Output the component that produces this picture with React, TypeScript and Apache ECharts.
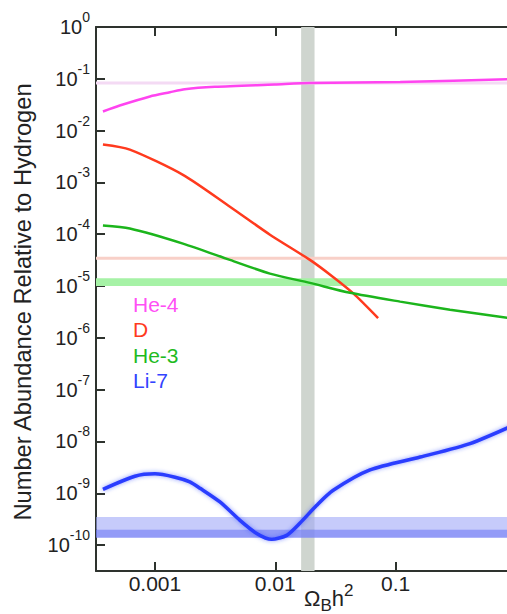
import React, { useEffect, useRef } from "react";
import * as echarts from "echarts";

// Curves (x = Ω_B h², y = number abundance relative to hydrogen)
const xHe4 = [3.7e-4, 5.1e-4, 9.1e-4, 1.33e-3, 1.77e-3, 3.15e-3, 9.9e-3, 1.94e-2, 0.109, 1.0];
const yHe4 = [0.0234, 0.0305, 0.0457, 0.055, 0.063, 0.07, 0.0776, 0.0826, 0.0863, 0.099];

const xD = [3.7e-4, 6.19e-4, 1.71e-3, 4.2e-3, 9.03e-3, 1.94e-2, 3.02e-2, 4.45e-2, 7.15e-2];
const yD = [5.4e-3, 4.3e-3, 1.4e-3, 3.4e-4, 9.8e-5, 3.2e-5, 1.5e-5, 7.2e-6, 2.4e-6];

const xHe3 = [3.7e-4, 6.19e-4, 1.71e-3, 4.2e-3, 9.03e-3, 1.94e-2, 4.18e-2, 0.109, 0.283, 1.0];
const yHe3 = [1.48e-4, 1.29e-4, 6.6e-5, 3.2e-5, 1.74e-5, 1.15e-5, 7.4e-6, 5.0e-6, 3.5e-6, 2.3e-6];

const xLi7 = [3.7e-4, 6.82e-4, 1.0e-3, 1.47e-3, 1.95e-3, 2.37e-3, 3.47e-3, 5.09e-3, 7.0e-3, 9.33e-3, 1.245e-2, 1.6e-2, 2.21e-2, 3.03e-2, 6.12e-2, 0.16, 0.415, 1.0];
const yLi7 = [1.19e-9, 2.13e-9, 2.37e-9, 2.04e-9, 1.66e-9, 1.25e-9, 6.8e-10, 3.0e-10, 1.68e-10, 1.29e-10, 1.54e-10, 2.63e-10, 5.86e-10, 1.14e-9, 2.82e-9, 5.0e-9, 9.1e-9, 2.16e-8];

// Observational bands
const baryonBand = [0.0164, 0.0212];
const he4Band = [0.0773, 0.0883];
const dBand = [3.21e-5, 3.67e-5];
const he3Band = [1.0e-5, 1.41e-5];
const li7BandOuter = [2.0e-10, 3.5e-10];
const li7BandInner = [1.39e-10, 2.0e-10];

// Axes
const xMin = 3.24e-4;
const xMax = 1;
const yMin = 3.16e-11;
const yMax = 1;
const xTickValues = [0.001, 0.01, 0.1];
const xTickLabels = ["0.001", "0.01", "0.1"];
const yTickExps = [-10, -9, -8, -7, -6, -5, -4, -3, -2, -1, 0];

const legendNames = ["He-4", "D", "He-3", "Li-7"];
const legendColors = ["#ff50f5", "#ff3a1e", "#1fbb1f", "#3344ff"];

const FONT = "'Liberation Sans', Arial, Helvetica, sans-serif";
const AXIS_COLOR = "#2e332e";

const pairs = (xs: number[], ys: number[]) => xs.map((x, i) => [x, ys[i]]);

export default function App() {
  const ref = useRef<HTMLDivElement>(null);
  useEffect(() => {
    if (!ref.current) return;
    const chart = echarts.init(ref.current, null, { renderer: "svg" });
    const yTickValues = yTickExps.map((e) => Math.pow(10, e));
    const yLabel = (v: number) => {
      const l = Math.log10(v);
      const e = Math.round(l);
      if (Math.abs(l - e) > 1e-6) return "";
      return `{b|10}{s|${e}}`;
    };
    const xLabel = (v: number) => {
      for (let i = 0; i < xTickValues.length; i++) {
        if (Math.abs(Math.log10(v) - Math.log10(xTickValues[i])) < 1e-6) return xTickLabels[i];
      }
      return "";
    };
    const tickStyle = { inside: true, length: 9, lineStyle: { color: AXIS_COLOR, width: 2 } };
    const lineStyleAxis = { show: true, lineStyle: { color: AXIS_COLOR, width: 2 } };

    const band = (name: string, dim: "xAxis" | "yAxis", r: number[], color: string, z: number) => ({
      name,
      type: "line",
      data: [],
      z,
      silent: true,
      markArea: {
        silent: true,
        data: [[{ [dim]: r[0], itemStyle: { color } }, { [dim]: r[1] }]],
      },
    });

    const curve = (name: string, xs: number[], ys: number[], color: string, width: number, glow = false) => ({
      name,
      type: "line",
      data: pairs(xs, ys),
      smooth: 0.25,
      showSymbol: false,
      symbol: "none",
      z: 5,
      lineStyle: glow
        ? { color, width, shadowBlur: 4, shadowColor: "rgba(40,60,255,0.55)" }
        : { color, width },
    });

    chart.setOption({
      animation: false,
      grid: { left: 96, top: 27, width: 420, height: 544, outerBoundsMode: "none", containLabel: false },
      xAxis: [
        {
          type: "log",
          min: xMin,
          max: xMax,
          position: "bottom",
          axisLine: lineStyleAxis,
          axisTick: { ...tickStyle, customValues: xTickValues },
          splitLine: { show: false },
          axisLabel: {
            customValues: xTickValues,
            formatter: xLabel,
            fontSize: 21,
            fontFamily: FONT,
            color: "#222",
            margin: 2,
          },
        },
        {
          type: "log",
          min: xMin,
          max: xMax,
          position: "top",
          axisLine: lineStyleAxis,
          axisTick: { ...tickStyle, customValues: xTickValues },
          splitLine: { show: false },
          axisLabel: { show: false },
        },
      ],
      yAxis: [
        {
          type: "log",
          min: yMin,
          max: yMax,
          position: "left",
          name: "Number Abundance Relative to Hydrogen",
          nameLocation: "middle",
          nameGap: 61,
          nameTextStyle: { fontSize: 23.7, fontFamily: FONT, color: "#222", padding: [0, 6, 0, 0] },
          axisLine: lineStyleAxis,
          axisTick: { ...tickStyle, customValues: yTickValues },
          splitLine: { show: false },
          axisLabel: {
            customValues: yTickValues,
            formatter: yLabel,
            margin: 6,
            color: "#222",
            fontFamily: FONT,
            rich: {
              b: { fontSize: 20, lineHeight: 34, verticalAlign: "middle", fontFamily: FONT, color: "#222" },
              s: { fontSize: 14, lineHeight: 12, verticalAlign: "top", fontFamily: FONT, color: "#222" },
            },
          },
        },
        {
          type: "log",
          min: yMin,
          max: yMax,
          position: "right",
          axisLine: lineStyleAxis,
          axisTick: { ...tickStyle, customValues: yTickValues },
          splitLine: { show: false },
          axisLabel: { show: false },
        },
      ],
      series: [
        band("baryon density", "xAxis", baryonBand, "#cfd5cf", 1),
        band("He-4 observed", "yAxis", he4Band, "#f4daf4", 2),
        band("D observed", "yAxis", dBand, "#f8d0c8", 2),
        band("He-3 observed", "yAxis", he3Band, "#a6f2a6", 2),
        band("Li-7 observed (outer)", "yAxis", li7BandOuter, "rgba(160,168,248,0.6)", 2),
        band("Li-7 observed (inner)", "yAxis", li7BandInner, "rgba(120,130,245,0.8)", 2),
        curve("He-4", xHe4, yHe4, "#ff44f0", 2.5),
        curve("D", xD, yD, "#ff3a1e", 2.5),
        curve("He-3", xHe3, yHe3, "#1cb51c", 2.5),
        curve("Li-7", xLi7, yLi7, "#2a3cff", 3.5, true),
      ],
      graphic: [
        ...legendNames.map((n, i) => ({
          type: "text",
          left: 133,
          top: 294 + i * 25.3,
          style: { text: n, fill: legendColors[i], fontSize: 21, fontFamily: FONT },
        })),
        {
          type: "text",
          x: 304,
          y: 598,
          style: {
            text: "{o|Ω}{sub|B}{o|h}{sup|2}",
            verticalAlign: "middle",
            fill: "#222",
            fontFamily: FONT,
            rich: {
              o: { fontSize: 22, lineHeight: 32, verticalAlign: "middle", fontFamily: FONT, fill: "#222" },
              sub: { fontSize: 17, lineHeight: 13, verticalAlign: "bottom", fontFamily: FONT, fill: "#222" },
              sup: { fontSize: 17, lineHeight: 13, verticalAlign: "top", fontFamily: FONT, fill: "#222" },
            },
          },
        },
      ],
    });
    return () => chart.dispose();
  }, []);
  return <div ref={ref} style={{ width: 507, height: 614, position: "absolute", left: 0, top: 0 }} />;
}
